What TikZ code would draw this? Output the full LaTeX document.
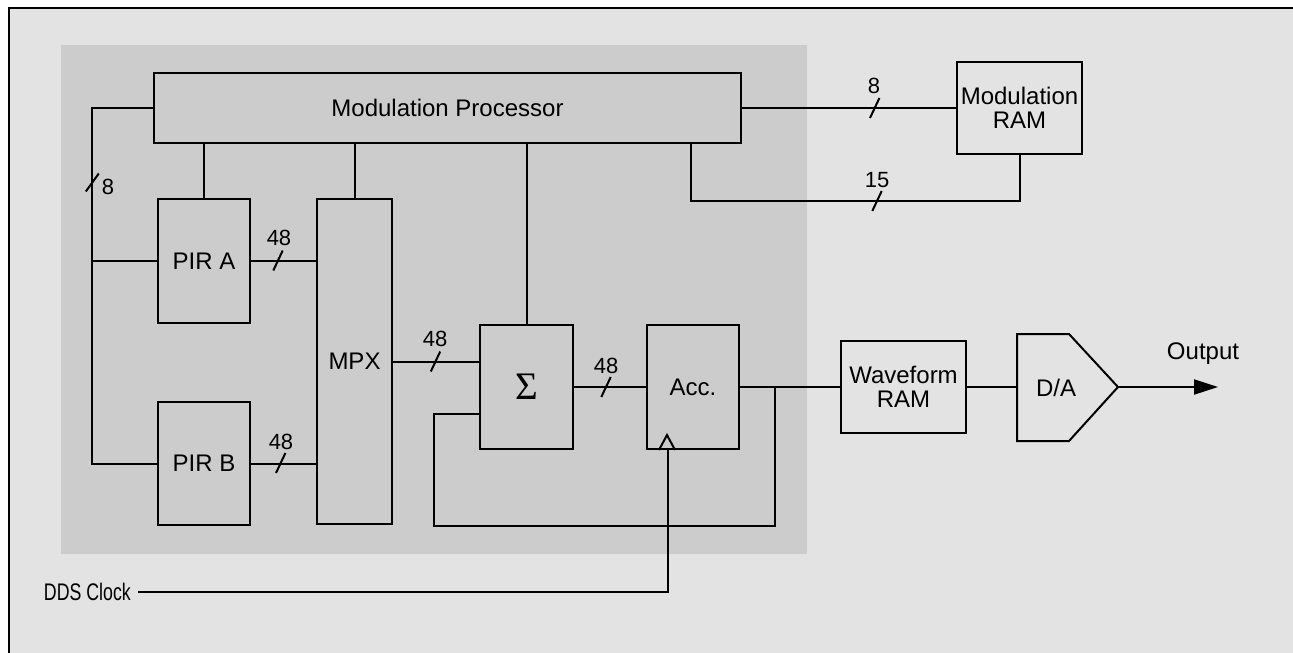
\documentclass[tikz,border=0pt]{standalone}
\usepackage{fontspec}
\setmainfont{Liberation Sans}
\newfontfamily\sigfont{Liberation Serif}
\usetikzlibrary{arrows.meta,calc}
\definecolor{outerg}{RGB}{227,227,227}
\definecolor{innerg}{RGB}{204,204,204}
\begin{document}
\begin{tikzpicture}[x=1pt,y=-1pt,
  box/.style={draw=black,line width=2pt,inner sep=0pt,align=center,font=\fontsize{24}{24}\selectfont},
  wire/.style={line width=2pt},
  lbl/.style={inner sep=0pt,font=\fontsize{24}{24}\selectfont},
  num/.style={inner sep=0pt,font=\fontsize{22}{22}\selectfont}]
\useasboundingbox (0,0) rectangle (1293,653);
\fill[white] (0,0) rectangle (1293,653);
\fill[outerg] (9.3,8.3) rectangle (1293,653);
\draw[line width=2pt] (9.3,653) -- (9.3,8.3) -- (1293,8.3);
\fill[innerg] (61,45) rectangle (806.5,554);
% blocks
\node[box,minimum width=587pt,minimum height=70pt] (MP) at (447.5,108) {Modulation Processor};
\node[box,minimum width=125pt,minimum height=92pt] (MRAM) at (1019.5,108) {Modulation\\RAM};
\node[box,minimum width=92pt,minimum height=124pt] (PIRA) at (204,261) {PIR A};
\node[box,minimum width=92pt,minimum height=123pt] (PIRB) at (204,463.5) {PIR B};
\node[box,minimum width=75pt,minimum height=325pt] (MPX) at (354.5,361.5) {MPX};
\node[box,minimum width=93pt,minimum height=124pt,font=\sigfont\fontsize{39}{40}\selectfont] (S) at (526.5,387) {Σ};
\node[box,minimum width=92pt,minimum height=124pt] (ACC) at (693,387) {Acc.};
\node[box,minimum width=125pt,minimum height=92pt] (WR) at (903.5,387) {Waveform\\RAM};
% D/A
\coordinate (daL) at (1017,387);
\coordinate (daT) at (1118,387);
\draw[wire,line join=miter] (1017,334) -- (1069,334) -- (daT) -- (1069,441) -- (1017,441) -- cycle;
\node[lbl] (DA) at (1056,388) {D/A};
\coordinate (out) at (1218,387);
\draw[wire,-{Triangle[length=24pt,width=15pt]}] (daT) -- (out);
\node[lbl] (OUT) at (1203,354) {Output};
% DDS clock
\node[lbl,anchor=east] (DDS) at (131,592) {\scalebox{0.74}[1]{DDS Clock}};
\coordinate (ck) at (668,592);
\draw[wire,shorten <=7pt] (DDS.east) -- (ck) -- (ck |- ACC.south);
\draw[wire,line join=miter] ($(ACC.south west)+(13,0)$) -- ++(8,-15) -- ++(8,15);
% connectors
\coordinate (lb) at (92,0);
\draw[wire] (MP.west) -| (lb |- PIRB.west) -- (PIRB.west);
\draw[wire] (lb |- PIRA.west) -- (PIRA.west);
\draw[wire] (PIRA.north) -- (PIRA.north |- MP.south);
\draw[wire] (MPX.north) -- (MPX.north |- MP.south);
\draw[wire] (S.north) -- (S.north |- MP.south);
\coordinate (b15) at (691,201);
\draw[wire] (b15 |- MP.south) -- (b15) -| (MRAM.south);
\draw[wire] (MP.east) -- (MRAM.west);
\draw[wire] (PIRA.east) -- (PIRA.east -| MPX.west);
\draw[wire] (PIRB.east) -- (PIRB.east -| MPX.west);
\draw[wire] (MPX.east) -- (MPX.east -| S.west);
\draw[wire] (S.east) -- (ACC.west);
\draw[wire] (ACC.east) -- (WR.west);
\draw[wire] (WR.east) -- (daL);
\coordinate (fbR) at (775,526);
\coordinate (fbL) at (434,526);
\coordinate (sIn) at ($(S.south west)+(0,-36)$);
\draw[wire] (fbR |- ACC.east) -- (fbR) -- (fbL) |- (sIn);
% bus slashes
\coordinate (s1) at (92.3,182.5);
\coordinate (s2) at (278,260.5);
\coordinate (s3) at (280.7,463);
\coordinate (s4) at (435.5,361.5);
\coordinate (s5) at (606,387);
\coordinate (s6) at (874.7,108);
\coordinate (s7) at (877,201);
\draw[wire] (s1) ++(-6.5,9) -- ++(13,-18);
\foreach \s in {s2,s3,s4,s5,s6,s7}
  \draw[wire] (\s) ++(-4.7,10) -- ++(9.4,-20);
\node[num] (n1) at (108,187) {8};
\node[num] (n2) at (279,238) {48};
\node[num] (n3) at (281,442) {48};
\node[num] (n4) at (435,339) {48};
\node[num] (n5) at (606,366) {48};
\node[num] (n6) at (874,86) {8};
\node[num] (n7) at (877,180) {15};
\end{tikzpicture}
\end{document}
